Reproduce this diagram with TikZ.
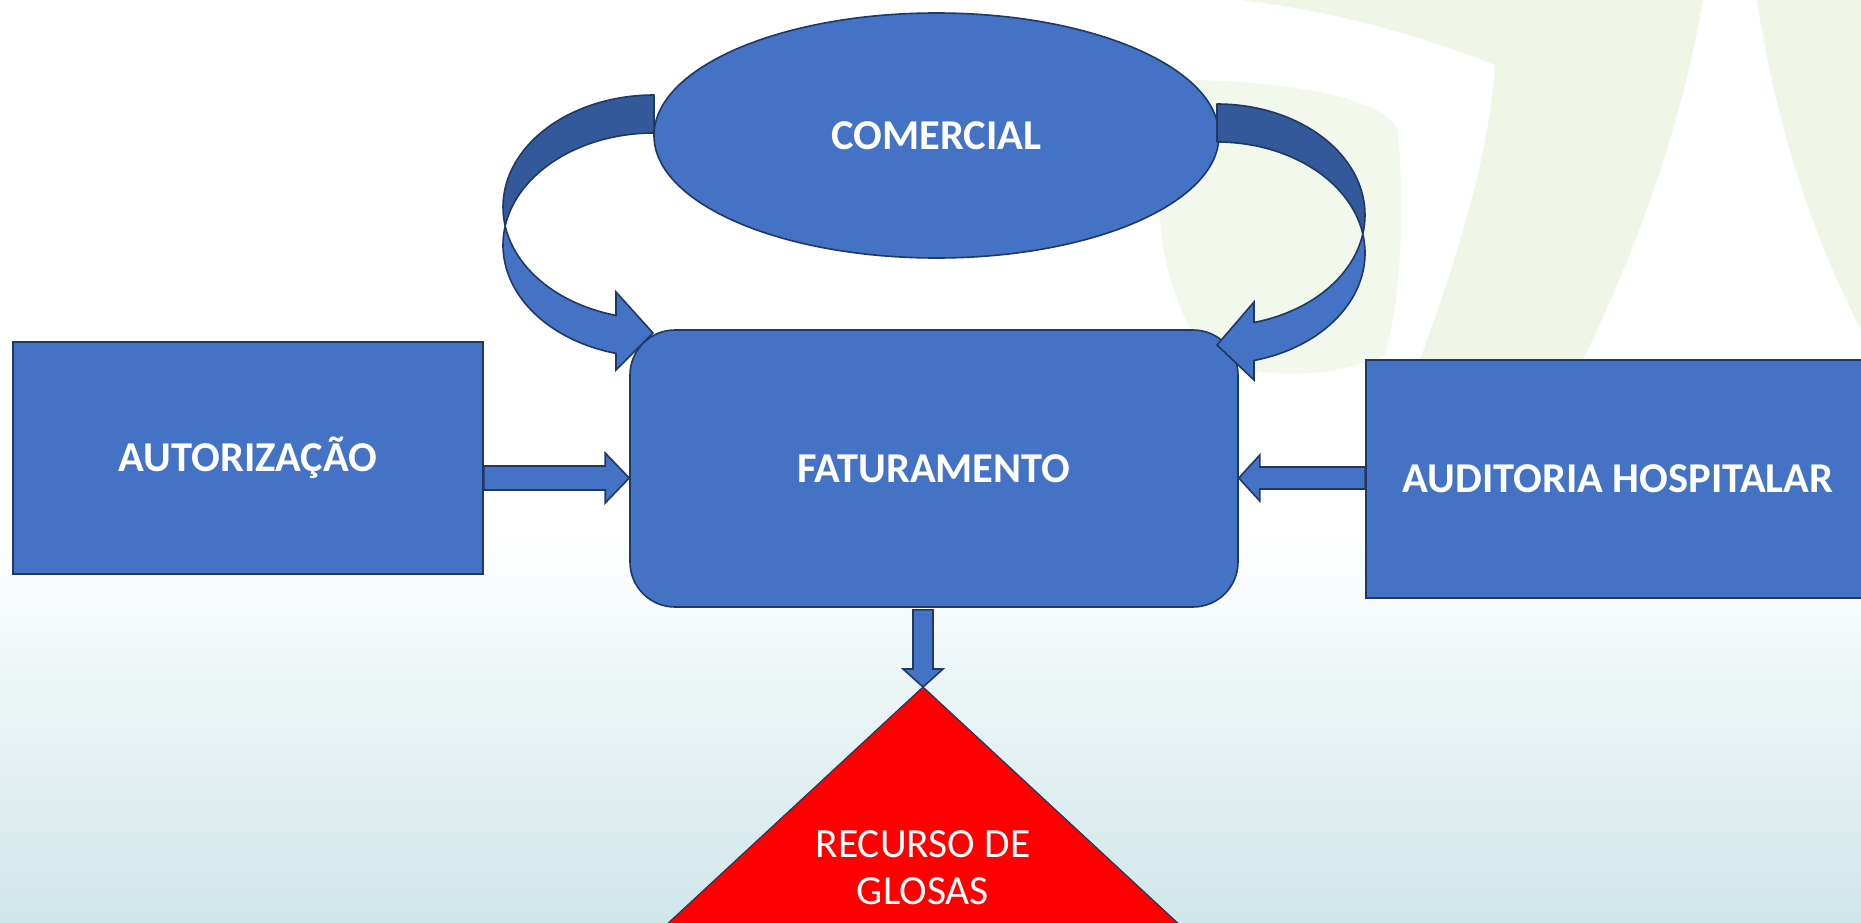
\documentclass[tikz,border=0pt]{standalone}
\usepackage{fontspec}
\setmainfont{Carlito}
\usetikzlibrary{calc,shapes.geometric}
\definecolor{boxblue}{HTML}{4472C4}
\definecolor{navy}{HTML}{1F3864}
\definecolor{backblue}{HTML}{34599B}
\definecolor{bgteal}{HTML}{D0E6E9}
\definecolor{bggreen}{HTML}{EFF6E5}
\definecolor{bggreenpale}{HTML}{F3F8EC}
\newcommand\blockarr[5]{%
  \coordinate (ba-m) at ($(#2)!#5!(#1)$);
  \draw[blockarrow] ($(#1)!#3!90:(#2)$) -- ($(ba-m)!#3!90:(#2)$) -- ($(ba-m)!#4!90:(#2)$) -- (#2) -- ($(ba-m)!#4!-90:(#2)$) -- ($(ba-m)!#3!-90:(#2)$) -- ($(#1)!#3!-90:(#2)$) -- cycle;}
\begin{document}
\begin{tikzpicture}[x=1pt,y=-1pt,
  shapebox/.style={draw=navy, line width=1.6pt, fill=boxblue, text=white,
    font=\fontsize{42.5}{50}\selectfont\bfseries, inner sep=0pt},
  blockarrow/.style={draw=navy, line width=1.6pt, fill=boxblue, line join=miter},
  backface/.style={draw=navy, line width=1.6pt, fill=backblue, line join=round},
  frontface/.style={draw=navy, line width=1.6pt, fill=boxblue, line join=miter},
  tri/.style={draw=navy, line width=1.2pt, fill=red},
  trilabel/.style={text=white, font=\fontsize{41.5}{47}\selectfont, align=center, inner sep=0pt},
  greenbg/.style={fill=bggreen}
  ]
\useasboundingbox (0,0) rectangle (1861,923);
\clip (0,0) rectangle (1861,923);
% background
\fill[white] (0,0) rectangle (1861,923);
\fill[top color=white, bottom color=bgteal] (0,530) rectangle (1861,923);
\fill[greenbg] (1240,0) -- (1703,0) .. controls (1680,130) and (1640,240) .. (1583,360) -- (1420,360) .. controls (1460,250) and (1490,150) .. (1495,65) .. controls (1420,35) and (1330,10) .. (1240,0) -- cycle;
\fill[greenbg] (1757,0) -- (1861,0) -- (1861,330) .. controls (1810,230) and (1775,120) .. (1757,0) -- cycle;
\fill[bggreenpale] (1190,80) .. controls (1300,82) and (1385,100) .. (1398,130) .. controls (1405,220) and (1400,300) .. (1385,355) .. controls (1330,380) and (1250,380) .. (1205,355) .. controls (1165,290) and (1135,200) .. (1190,80) -- cycle;

% boxes
\node[shapebox, rectangle, minimum width=470pt, minimum height=232pt] (aut) at (248,458) {AUTORIZAÇÃO};
\node[shapebox, rectangle, rounded corners=45pt, minimum width=608pt, minimum height=277pt] (fat) at (934,468.5) {FATURAMENTO};
\node[shapebox, ellipse, minimum width=565pt, minimum height=245pt] (com) at (936.5,135.5) {COMERCIAL};
\node[shapebox, rectangle, minimum width=504pt, minimum height=238pt] (aud) at (1618,479) {AUDITORIA HOSPITALAR};

% straight block arrows
\coordinate (a1s) at ($(aut.east)+(0,20)$);
\coordinate (a1e) at ($(fat.west)+(0,9.5)$);
\blockarr{a1s}{a1e}{12pt}{25pt}{24pt}
\coordinate (a2s) at ($(aud.west)+(0,-1)$);
\coordinate (a2e) at ($(fat.east)+(0,9.5)$);
\blockarr{a2s}{a2e}{11pt}{23pt}{21pt}

% curved arrows (COMERCIAL -> FATURAMENTO)
\draw[backface] (654,95) arc[start angle=270, end angle=170.23, x radius=151, y radius=112]
  arc[start angle=189.77, end angle=270, x radius=151, y radius=112] -- cycle;
\draw[frontface] (505.2,226) arc[start angle=170.23, end angle=104.58, x radius=151, y radius=112]
  -- (616,292) -- (653,333) -- (616,370) -- (616,353.4)
  arc[start angle=104.58, end angle=189.77, x radius=151, y radius=112] -- cycle;
\draw[backface] (1217,104) arc[start angle=-90, end angle=9.86, x radius=148, y radius=111]
  arc[start angle=-9.86, end angle=-90, x radius=148, y radius=111] -- cycle;
\draw[frontface] (1362.8,234) arc[start angle=9.86, end angle=75.52, x radius=148, y radius=111]
  -- (1254,302) -- (1217,345) -- (1254,380) -- (1254,360.5)
  arc[start angle=75.52, end angle=-9.86, x radius=148, y radius=111] -- cycle;

% triangle
\coordinate (apex) at (923,687);
\draw[tri] (apex) -- ++(-300,278) -- ++(600,0) -- cycle;
\node[trilabel] (rec) at (923,868) {RECURSO DE\\GLOSAS};

% down arrow
\coordinate (a3s) at ($(fat.south)+(-11,2)$);
\blockarr{a3s}{apex}{10pt}{20pt}{18pt}
\end{tikzpicture}
\end{document}
